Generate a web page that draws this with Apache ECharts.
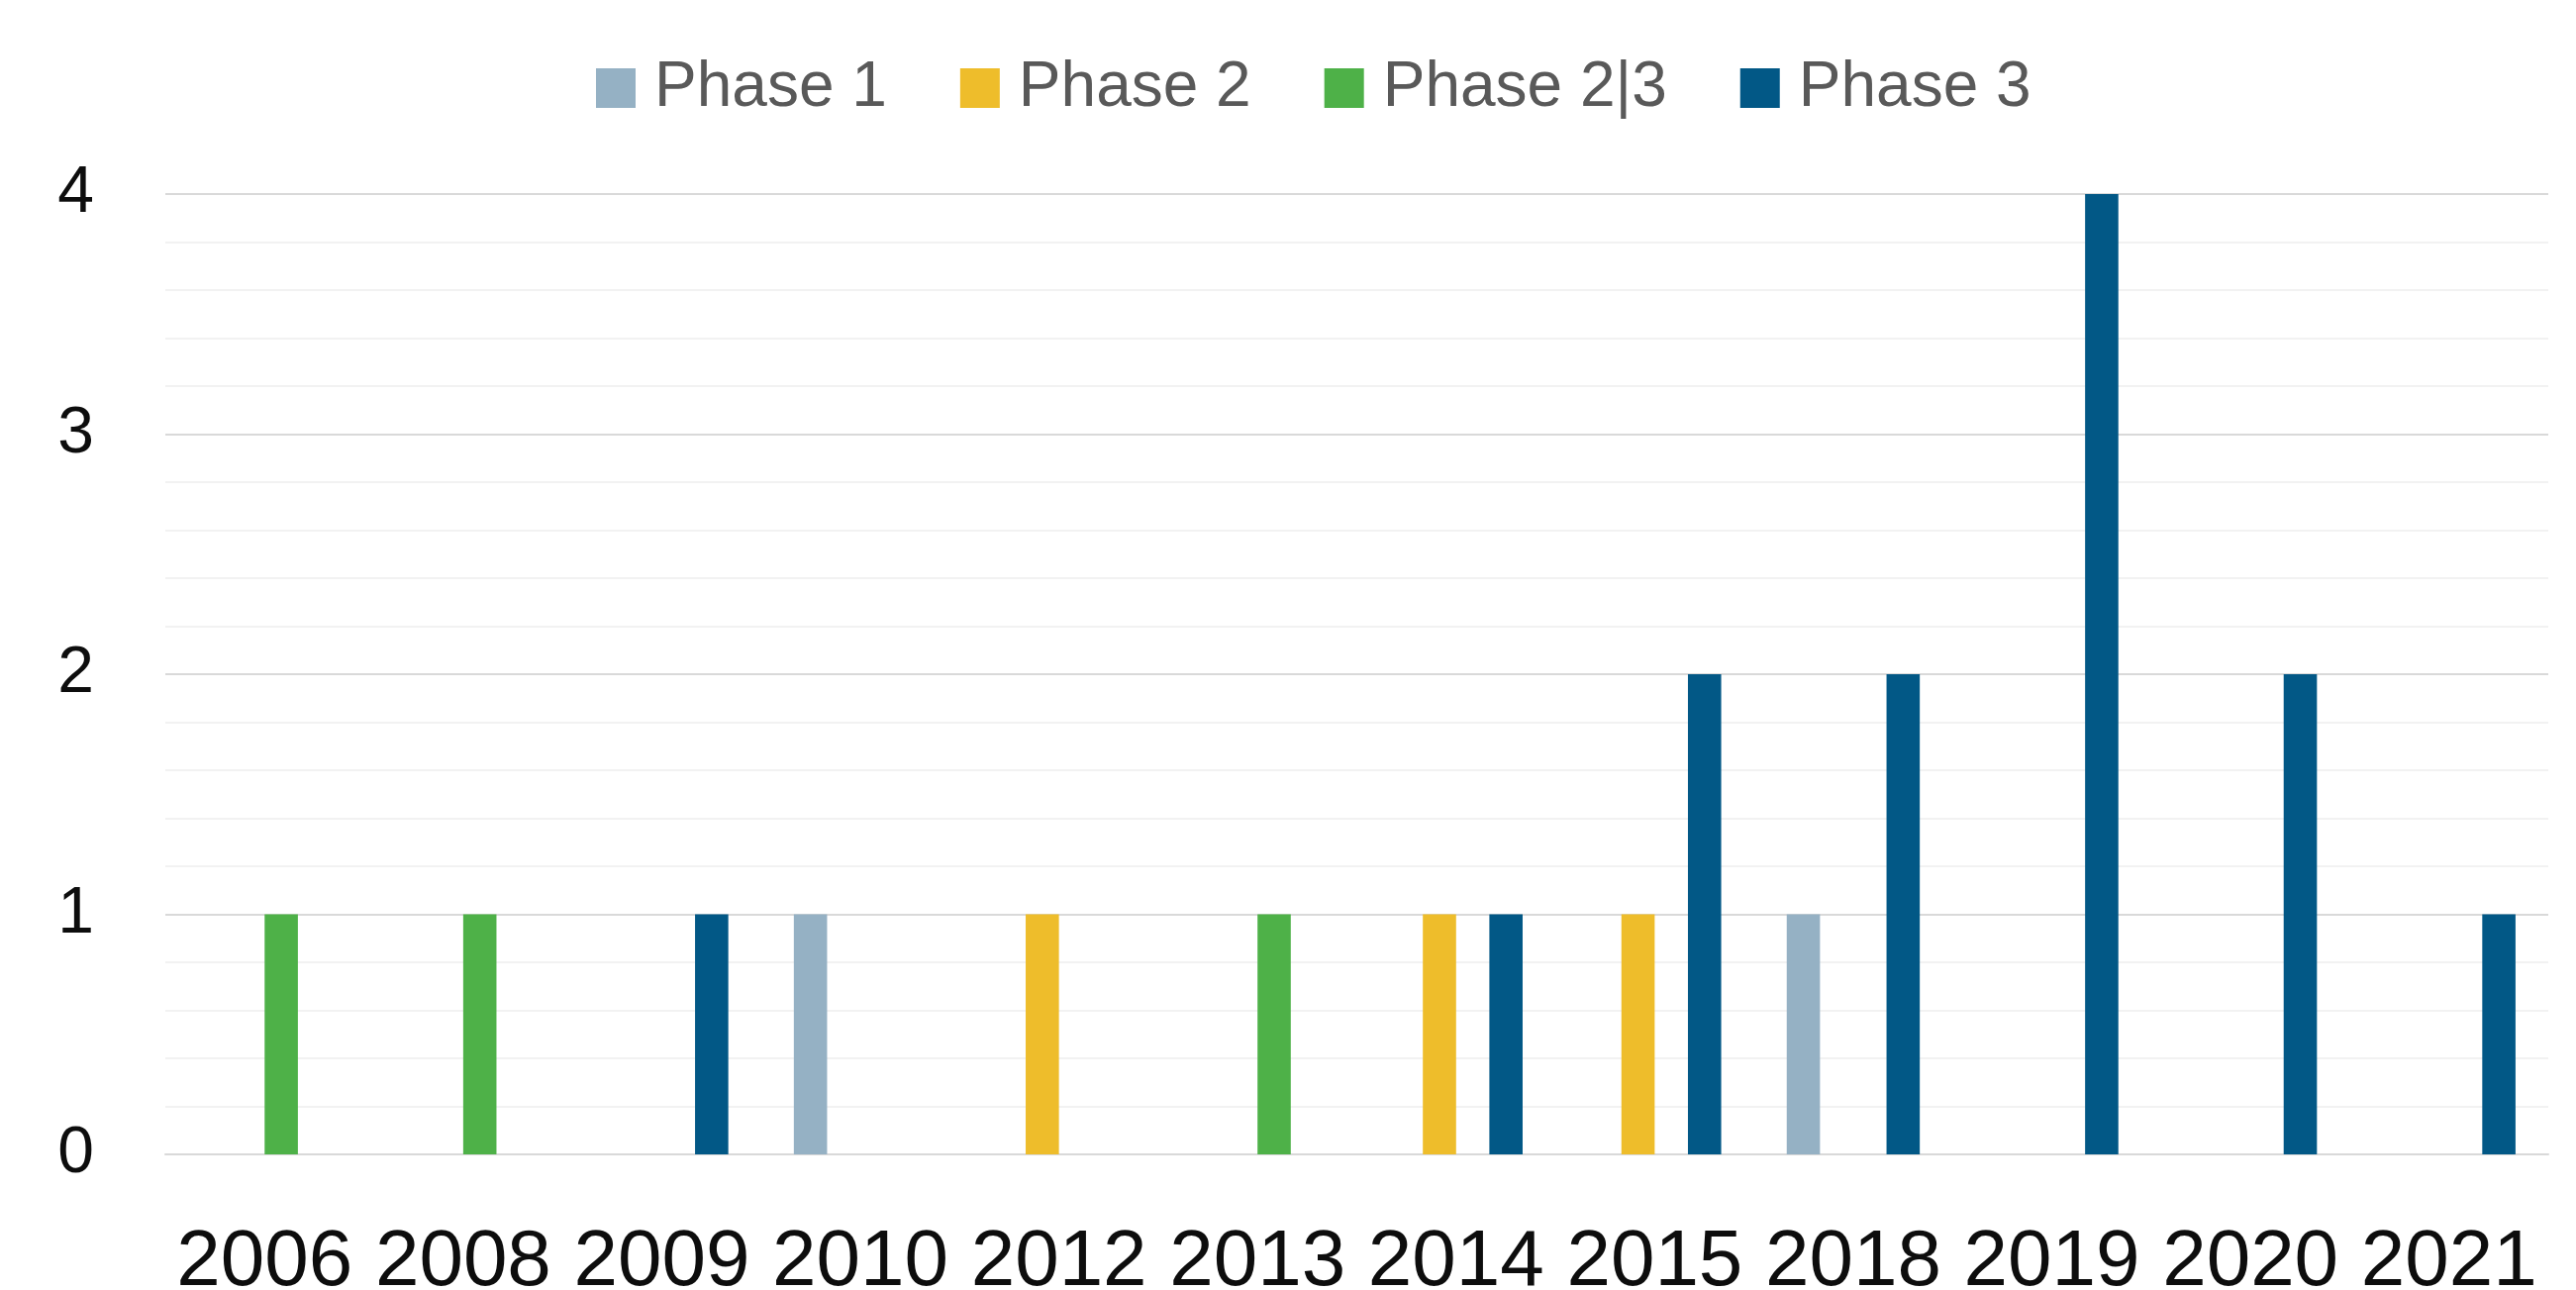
<!DOCTYPE html>
<html>
<head>
<meta charset="utf-8">
<script src="https://cdn.jsdelivr.net/npm/echarts@6/dist/echarts.min.js"></script>
<style>
html,body{margin:0;padding:0;background:#fff;}
#chart{width:2602px;height:1303px;}
</style>
</head>
<body>
<div id="chart"></div>
<script>
const categories = ['2006','2008','2009','2010','2012','2013','2014','2015','2018','2019','2020','2021'];
const phase1  = [null, null, null, 1, null, null, null, null, 1, null, null, null];
const phase2  = [null, null, null, null, 1, null, 1, 1, null, null, null, null];
const phase23 = [1, 1, null, null, null, 1, null, null, null, null, null, null];
const phase3  = [null, null, 1, null, null, null, 1, 2, 2, 4, 2, 1];
const yTicks = [0, 1, 2, 3, 4];

const FONT = 'Liberation Sans, Arial, sans-serif';
const chart = echarts.init(document.getElementById('chart'));
function bar(name, data, color) {
  return { name, type: 'bar', data, itemStyle: { color }, barGap: '0%', barCategoryGap: '33%' };
}
chart.setOption({
  animation: false,
  backgroundColor: '#ffffff',
  legend: {
    top: 52, left: 597,
    itemWidth: 40, itemHeight: 40, itemGap: 74,
    icon: 'rect',
    textStyle: { fontFamily: FONT, fontSize: 64, color: '#595959', padding: [0, 0, 0, 14] },
    data: ['Phase 1', 'Phase 2', 'Phase 2|3', 'Phase 3']
  },
  grid: { left: 167, right: 28, top: 196, bottom: 137, containLabel: false, outerBoundsMode: 'none' },
  xAxis: {
    type: 'category', data: categories,
    axisLine: { show: true, lineStyle: { color: '#d9d9d9', width: 2 } },
    axisTick: { show: false },
    axisLabel: { interval: 0, hideOverlap: false, fontFamily: FONT, fontSize: 80, color: '#0d0d0d', margin: 70 }
  },
  yAxis: {
    type: 'value', min: yTicks[0], max: yTicks[yTicks.length - 1], interval: 1,
    axisLine: { show: false }, axisTick: { show: false },
    axisLabel: { fontFamily: FONT, fontSize: 66, color: '#0d0d0d', margin: 72 },
    splitLine: { lineStyle: { color: '#d9d9d9', width: 2 } },
    minorTick: { show: false, splitNumber: 5 },
    minorSplitLine: { show: true, lineStyle: { color: '#f2f2f2', width: 2 } }
  },
  series: [
    bar('Phase 1', phase1, '#95b1c4'),
    bar('Phase 2', phase2, '#eebd2b'),
    bar('Phase 2|3', phase23, '#4eb148'),
    bar('Phase 3', phase3, '#025886')
  ]
});
</script>
</body>
</html>
